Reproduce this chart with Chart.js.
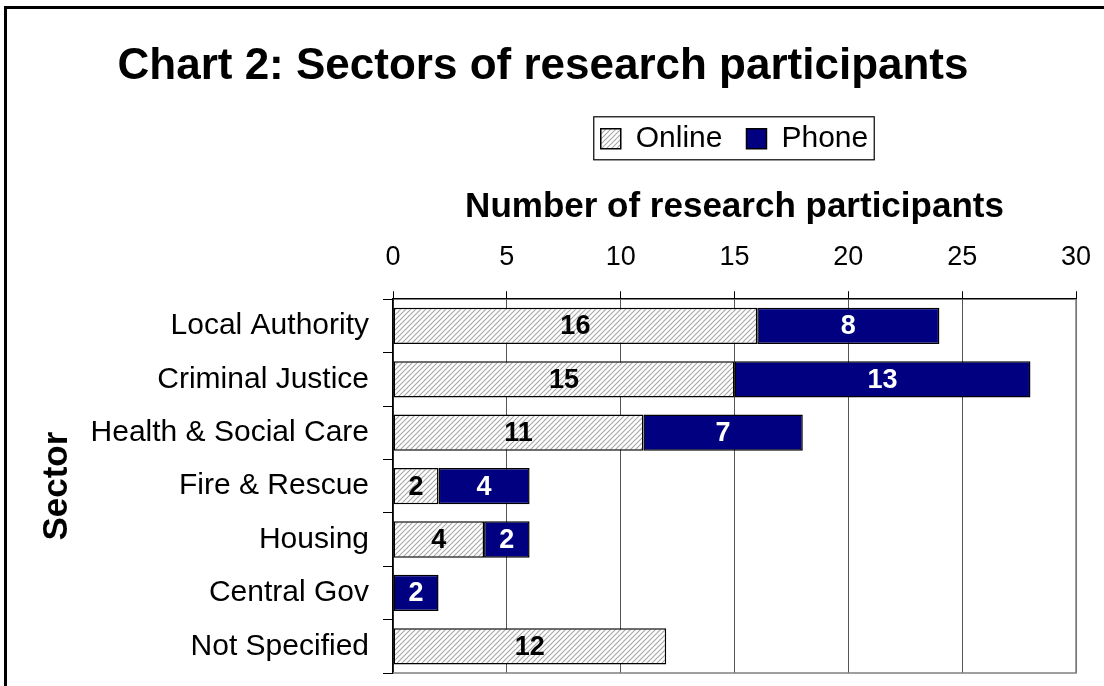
<!DOCTYPE html>
<html>
<head>
<meta charset="utf-8">
<script src="https://cdn.jsdelivr.net/npm/chart.js@4/dist/chart.umd.min.js"></script>
<style>
  html, body { margin: 0; padding: 0; background: #fff; }
  #wrap { position: relative; width: 1104px; height: 686px; overflow: hidden; }
  #frame { position: absolute; left: 4px; top: 6px; width: 1200px; height: 800px;
           border-left: 3px solid #000; border-top: 3px solid #000; }
  #chart { position: absolute; left: 0; top: 0; }
</style>
</head>
<body>
<div id="wrap">
  <div id="frame"></div>
  <canvas id="chart" width="1104" height="686"></canvas>
</div>
<script>
'use strict';

const SECTORS = [
  'Local Authority', 'Criminal Justice', 'Health & Social Care',
  'Fire & Rescue', 'Housing', 'Central Gov', 'Not Specified',
];
const ONLINE = [16, 15, 11, 2, 4, 0, 12];
const PHONE  = [8, 13, 7, 4, 2, 2, 0];
const X_MIN  = 0;
const X_MAX  = 30;
const X_STEP = 5;

const FONT = '"Liberation Sans", Arial, sans-serif';
const NAVY = '#000080';

function makeHatch() {
  const c = document.createElement('canvas');
  c.width = 5; c.height = 5;
  const g = c.getContext('2d');
  g.fillStyle = '#fff';
  g.fillRect(0, 0, 5, 5);
  g.strokeStyle = '#a6a6a6';
  g.lineWidth = 1.1;
  g.beginPath();
  g.moveTo(-1, 6); g.lineTo(6, -1);
  g.moveTo(-3.5, 3.5); g.lineTo(3.5, -3.5);
  g.moveTo(1.5, 8.5); g.lineTo(8.5, 1.5);
  g.stroke();
  return g.createPattern(c, 'repeat');
}

const hatch = makeHatch();

// bold numbers centred in each segment
const segmentLabels = {
  id: 'segmentLabels',
  afterDatasetsDraw(chart) {
    const ctx = chart.ctx;
    const colors = ['#000', '#fff'];
    ctx.save();
    ctx.font = `bold 27px ${FONT}`;
    ctx.textAlign = 'center';
    ctx.textBaseline = 'middle';
    chart.data.datasets.forEach((ds, i) => {
      chart.getDatasetMeta(i).data.forEach((bar, j) => {
        const v = ds.data[j];
        if (!v) return;
        const { x, base, y } = bar.getProps(['x', 'base', 'y'], true);
        ctx.fillStyle = colors[i];
        ctx.fillText(String(v), (x + base) / 2, y + 1);
      });
    });
    ctx.restore();
  },
};

// grey right/bottom edge of plot area + box round the legend
const frameBits = {
  id: 'frameBits',
  afterDraw(chart) {
    const { ctx, chartArea: a, legend } = chart;
    ctx.save();
    ctx.strokeStyle = '#808080';
    ctx.lineWidth = 1.5;
    ctx.beginPath();
    ctx.moveTo(a.left, a.bottom);
    ctx.lineTo(a.right, a.bottom);
    ctx.lineTo(a.right, a.top);
    ctx.stroke();

    const boxes = legend.legendHitBoxes;
    if (boxes && boxes.length) {
      const l = Math.min(...boxes.map(b => b.left)) - 7;
      const r = Math.max(...boxes.map(b => b.left + b.width)) + 6;
      const t = Math.min(...boxes.map(b => b.top)) - 7;
      const bt = Math.max(...boxes.map(b => b.top + b.height)) + 6;
      ctx.strokeStyle = '#000';
      ctx.lineWidth = 1.2;
      ctx.strokeRect(l, t, r - l, bt - t);
    }
    ctx.restore();
  },
};

new Chart(document.getElementById('chart'), {
  type: 'bar',
  data: {
    labels: SECTORS,
    datasets: [
      {
        label: 'Online',
        data: ONLINE,
        backgroundColor: hatch,
        borderColor: '#000',
        borderWidth: 1.5,
        borderSkipped: false,
      },
      {
        label: 'Phone',
        data: PHONE,
        backgroundColor: NAVY,
        borderColor: '#000',
        borderWidth: 1.5,
        borderSkipped: false,
      },
    ],
  },
  options: {
    indexAxis: 'y',
    responsive: false,
    animation: false,
    devicePixelRatio: 1,
    layout: { padding: { left: 10, right: 28, top: 0, bottom: 13 } },
    datasets: { bar: { categoryPercentage: 1, barPercentage: 0.68 } },
    plugins: {
      title: {
        display: true,
        text: 'Chart 2: Sectors of research participants',
        color: '#000',
        font: { family: FONT, size: 44, weight: 'bold' },
        padding: { top: 40, bottom: 7 },
      },
      legend: {
        position: 'top',
        fullSize: false,
        labels: {
          color: '#000',
          font: { family: FONT, size: 30 },
          boxWidth: 20,
          boxHeight: 20,
          padding: 24,
        },
      },
      tooltip: { enabled: false },
    },
    scales: {
      x: {
        position: 'top',
        stacked: true,
        min: X_MIN,
        max: X_MAX,
        ticks: {
          stepSize: X_STEP,
          color: '#000',
          font: { family: FONT, size: 27 },
          padding: 17,
        },
        grid: { color: '#555', lineWidth: 1, tickLength: 8, tickColor: '#000' },
        border: { color: '#000', width: 1.5 },
        title: {
          display: true,
          text: 'Number of research participants',
          color: '#000',
          font: { family: FONT, size: 35, weight: 'bold', lineHeight: 1 },
          padding: { top: 26, bottom: 0 },
        },
        afterFit(scale) { scale.paddingLeft = 0; scale.paddingRight = 0; },
      },
      y: {
        stacked: true,
        ticks: {
          color: '#000',
          font: { family: FONT, size: 30 },
          padding: 14,
        },
        grid: { offset: true, drawOnChartArea: false, tickLength: 10, color: '#000' },
        border: { color: '#000', width: 1.5 },
        title: {
          display: true,
          text: 'Sector',
          color: '#000',
          font: { family: FONT, size: 35, weight: 'bold', lineHeight: 1 },
          padding: { top: 30, bottom: 0 },
        },
        afterFit(scale) {
          scale.width = 383;
          scale.paddingTop = 0;
          scale.paddingBottom = 0;
        },
      },
    },
  },
  plugins: [segmentLabels, frameBits],
});
</script>
</body>
</html>
